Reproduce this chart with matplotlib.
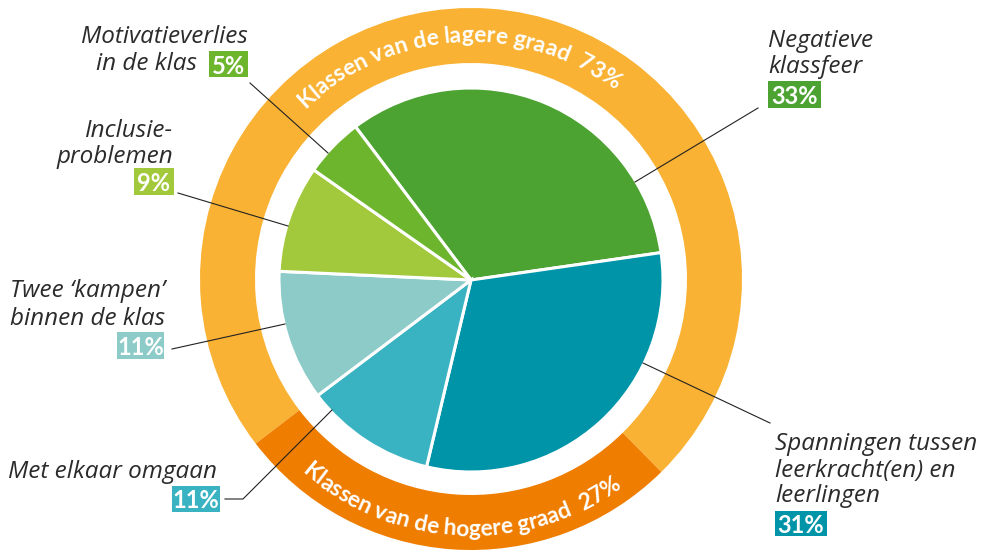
import numpy as np
import matplotlib.pyplot as plt
from matplotlib.patches import Rectangle

W, H = 991, 552

# pie data, clockwise from the top-left
labels = ['Negatieve\nklassfeer',
          'Spanningen tussen\nleerkracht(en) en\nleerlingen',
          'Met elkaar omgaan',
          'Twee \u2018kampen\u2019\nbinnen de klas',
          'Inclusie-\nproblemen',
          'Motivatieverlies\nin de klas']
values = [33, 31, 11, 11, 9, 5]
colors = ['#4CA332', '#0094A8', '#39B2C2', '#8CCBC8', '#A2C83B', '#6DB52D']

# outer ring
ring_labels = ['Klassen van de lagere graad', 'Klassen van de hogere graad']
ring_values = [73, 27]
ring_colors = ['#F9B233', '#EE7D00']

FONT = 'Lato'
LABEL_FONT = 'Open Sans'
TXT = '#2b2b2b'

fig = plt.figure(figsize=(W / 100, H / 100), dpi=100)
ax = fig.add_axes([0, 0, 1, 1])

cx, cy = 471, H - 280

ax.pie(ring_values, colors=ring_colors, radius=271, center=(cx, H - 279),
       startangle=217.4, counterclock=False,
       wedgeprops=dict(width=55, linewidth=0))
ax.pie(values, colors=colors, radius=192, center=(cx, cy),
       startangle=127, counterclock=False,
       wedgeprops=dict(edgecolor='white', linewidth=2.2))

ax.set_xlim(0, W)
ax.set_ylim(0, H)
ax.set_aspect('equal')
ax.axis('off')

renderer = fig.canvas.get_renderer()


def text_w(s, fs):
    t = ax.text(0, 0, s + '|', fontsize=fs, fontweight='bold', family=FONT)
    w = t.get_window_extent(renderer).width
    t.remove()
    t = ax.text(0, 0, '|', fontsize=fs, fontweight='bold', family=FONT)
    w -= t.get_window_extent(renderer).width
    t.remove()
    return w


def curved(s, theta_c, r, top, fs=16.5):
    total = text_w(s, fs)
    prev = 0.0
    for i, ch in enumerate(s):
        cur = text_w(s[:i + 1], fs)
        d = (prev + cur) / 2 - total / 2
        prev = cur
        if ch == ' ':
            continue
        if top:
            th = np.radians(theta_c) - d / r
            rot = np.degrees(th) - 90
        else:
            th = np.radians(theta_c) + d / r
            rot = np.degrees(th) + 90
        ax.text(cx + r * np.cos(th), H - 279 + r * np.sin(th), ch,
                fontsize=fs, fontweight='bold', family=FONT, color='white',
                ha='center', va='baseline', rotation=rot,
                rotation_mode='anchor')


curved(f'{ring_labels[0]}  {ring_values[0]}%', 93.5, 237, True)
curved(f'{ring_labels[1]}  {ring_values[1]}%', -92.7, 257, False)

# label layout: (x, align, line baselines, badge box x0, x1, y0, y1)
layout = [
    (768, 'left', [47, 73], (768, 821, 81, 108)),
    (775, 'left', [450, 477, 502], (775, 827, 511, 536)),
    (8, 'left', [478], (172, 220, 486, 512)),
    (165, 'right', [297, 325], (117, 164, 332, 359)),
    (173, 'right', [137, 163], (134, 174, 168, 195)),
    (248, 'right', [43, 70], (209, 248, 51, 77)),
]
leaders = [
    [(758, 108), (635, 182)],
    [(770, 423), (643, 363)],
    [(225, 499), (243, 499), (332, 410)],
    [(172, 349), (285, 324)],
    [(178, 193), (288, 226)],
    [(250, 83), (328, 153)],
]

for lab, val, col, (x, al, ys, box), pts in zip(labels, values, colors,
                                                 layout, leaders):
    lines = lab.split('\n')
    for k, (ln, y) in enumerate(zip(lines, ys)):
        xx = x
        if lab.startswith('Motivatie') and k == 1:
            xx = 197
        ax.text(xx, H - y, ln, fontsize=17.5, style='italic',
                family=LABEL_FONT, color=TXT, ha=al, va='baseline')
    x0, x1, y0, y1 = box
    ax.add_patch(Rectangle((x0, H - y1), x1 - x0, y1 - y0, fc=col, ec='none'))
    ax.text((x0 + x1) / 2, H - (y0 + y1) / 2, f'{val}%', fontsize=17,
            fontweight='bold', family=FONT, color='white',
            ha='center', va='center_baseline')
    px = [p[0] for p in pts]
    py = [H - p[1] for p in pts]
    ax.plot(px, py, color='#222222', lw=0.8)

fig.savefig('out.png', dpi=100)
